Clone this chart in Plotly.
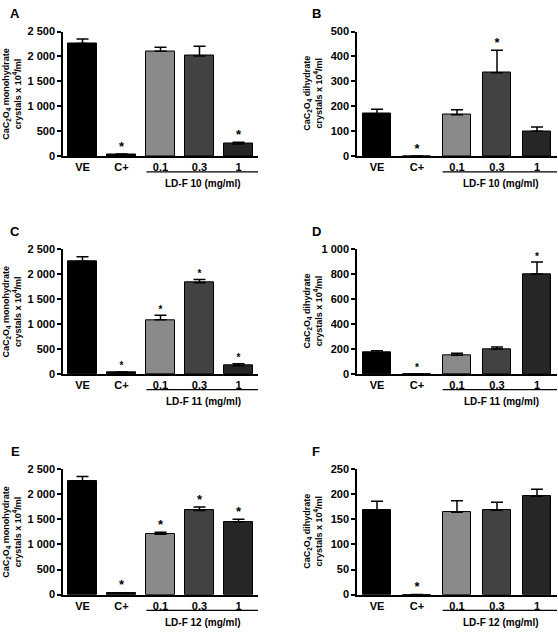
import plotly.graph_objects as go

W, H = 558, 633

cats = ["VE", "C+", "0.1", "0.3", "1"]
bar_colors = ["#000000", "#000000", "#8a8a8a", "#424242", "#262626"]

# panel A - LD-F 10, monohydrate
a_mean = [2260, 25, 2105, 2010, 245]
a_err = [90, 15, 80, 195, 35]
a_star = [False, True, False, False, True]
# panel B - LD-F 10, dihydrate
b_mean = [170, 0, 166, 335, 100]
b_err = [18, 0, 20, 90, 17]
b_star = [False, True, False, True, False]
# panel C - LD-F 11, monohydrate
c_mean = [2260, 25, 1085, 1830, 165]
c_err = [90, 15, 90, 65, 40]
c_star = [False, True, True, True, True]
# panel D - LD-F 11, dihydrate
d_mean = [170, 0, 149, 199, 801]
d_err = [16, 0, 16, 16, 97]
d_star = [False, True, False, False, True]
# panel E - LD-F 12, monohydrate
e_mean = [2260, 26, 1200, 1677, 1449]
e_err = [90, 13, 40, 66, 52]
e_star = [False, True, True, True, True]
# panel F - LD-F 12, dihydrate
f_mean = [168, 0, 164, 168, 196]
f_err = [18, 0, 23, 16, 14]
f_star = [False, True, False, False, False]

mono_ticks = [0, 500, 1000, 1500, 2000, 2500]
mono_text = ["0", "500", "1 000", "1 500", "2 000", "2 500"]
b_ticks = [0, 100, 200, 300, 400, 500]
d_ticks = [0, 200, 400, 600, 800, 1000]
d_text = ["0", "200", "400", "600", "800", "1 000"]
f_ticks = [0, 50, 100, 150, 200, 250]

mono_label = "CaC<sub>2</sub>O<sub>4</sub> monohydrate<br>crystals x 10<sup>4</sup>/ml"
di_label = "CaC<sub>2</sub>O<sub>4</sub> dihydrate<br>crystals x 10<sup>4</sup>/ml"

FONT = "Liberation Sans"
BW = 0.72

# (letter, means, errs, stars, yticks, yticktext, ymax, ylabel, group, left col, top px, bottom px, star size)
panels = [
    ("A", a_mean, a_err, a_star, mono_ticks, mono_text, 2500, mono_label, "LD-F 10 (mg/ml)", True, 26, 153, 13),
    ("B", b_mean, b_err, b_star, b_ticks, [str(v) for v in b_ticks], 500, di_label, "LD-F 10 (mg/ml)", False, 26, 153, 13),
    ("C", c_mean, c_err, c_star, mono_ticks, mono_text, 2500, mono_label, "LD-F 11 (mg/ml)", True, 248, 375, 10),
    ("D", d_mean, d_err, d_star, d_ticks, d_text, 1000, di_label, "LD-F 11 (mg/ml)", False, 248, 375, 10),
    ("E", e_mean, e_err, e_star, mono_ticks, mono_text, 2500, mono_label, "LD-F 12 (mg/ml)", True, 472, 600, 13),
    ("F", f_mean, f_err, f_star, f_ticks, [str(v) for v in f_ticks], 250, di_label, "LD-F 12 (mg/ml)", False, 472, 600, 13),
]

fig = go.Figure()
annotations = []
shapes = []

for i, (letter, mean, err, star, tv, tt, ymax, ylab, group, left, top, bot, ssize) in enumerate(panels):
    n = "" if i == 0 else str(i + 1)
    xa, ya = "x" + n, "y" + n
    if left:
        x0, x1 = 63, 258
        lab_x = 12
        let_x = 15
    else:
        x0, x1 = 357, 557
        lab_x = 313
        let_x = 316

    fig.add_trace(go.Bar(
        x=cats, y=mean, width=BW,
        marker=dict(color=bar_colors, line=dict(color="black", width=1)),
        error_y=dict(type="data", array=err, arrayminus=[0] * 5, symmetric=False,
                     color="black", thickness=1.5, width=6),
        xaxis=xa, yaxis=ya, showlegend=False,
    ))
    sx = [c for c, s in zip(cats, star) if s]
    sy = [m + e for m, e, s in zip(mean, err, star) if s]
    fig.add_trace(go.Scatter(
        x=sx, y=sy, mode="text", text=["*"] * len(sx), textposition="top center",
        textfont=dict(family=FONT, size=ssize, color="black", weight="bold"),
        xaxis=xa, yaxis=ya, showlegend=False, cliponaxis=False,
    ))

    fig.update_layout({
        "xaxis" + n: dict(
            domain=[x0 / W, x1 / W], anchor=ya, type="category", range=[-0.5, 4.5],
            showline=True, linecolor="black", linewidth=1.5, ticks="",
            tickfont=dict(family=FONT, size=11, color="black", weight="bold"),
            showgrid=False, zeroline=False, fixedrange=True,
        ),
        "yaxis" + n: dict(
            domain=[1 - bot / H, 1 - top / H], anchor=xa, range=[0, ymax],
            tickvals=tv, ticktext=tt, ticks="outside", ticklen=4, tickwidth=1.5,
            tickcolor="black", showline=True, linecolor="black", linewidth=1.5,
            tickfont=dict(family=FONT, size=11, color="black", weight="bold"),
            showgrid=False, zeroline=False, fixedrange=True,
        ),
    })

    annotations.append(dict(
        text=ylab, x=lab_x / W, y=1 - (top + bot) / 2 / H, xref="paper", yref="paper",
        xanchor="center", yanchor="middle",
        textangle=-90, showarrow=False, align="center",
        font=dict(family=FONT, size=9, color="black", weight="bold"),
    ))
    annotations.append(dict(
        text=letter, x=let_x / W, y=1 - (top - 18) / H, xref="paper", yref="paper",
        xanchor="center", yanchor="middle",
        showarrow=False, font=dict(family=FONT, size=13, color="black", weight="bold"),
    ))
    annotations.append(dict(
        text=group, x=3.1, y=1 - (bot + 28) / H, xref=xa, yref="paper",
        xanchor="center", yanchor="middle",
        showarrow=False, font=dict(family=FONT, size=10, color="black", weight="bold"),
    ))
    shapes.append(dict(
        type="line", xref=xa, yref="paper", x0=2 - BW / 2, x1=4.5,
        y0=1 - (bot + 16) / H, y1=1 - (bot + 16) / H,
        line=dict(color="black", width=1.2),
    ))

fig.update_layout(
    width=W, height=H, margin=dict(l=0, r=0, t=0, b=0),
    paper_bgcolor="white", plot_bgcolor="white",
    annotations=annotations, shapes=shapes, bargap=0,
)

fig.write_html(
    "out.html",
    config={"displayModeBar": False},
    post_script=(
        "document.body.style.margin='0px';"
        "document.body.style.overflow='hidden';"
        "document.documentElement.style.overflow='hidden';"
    ),
)
